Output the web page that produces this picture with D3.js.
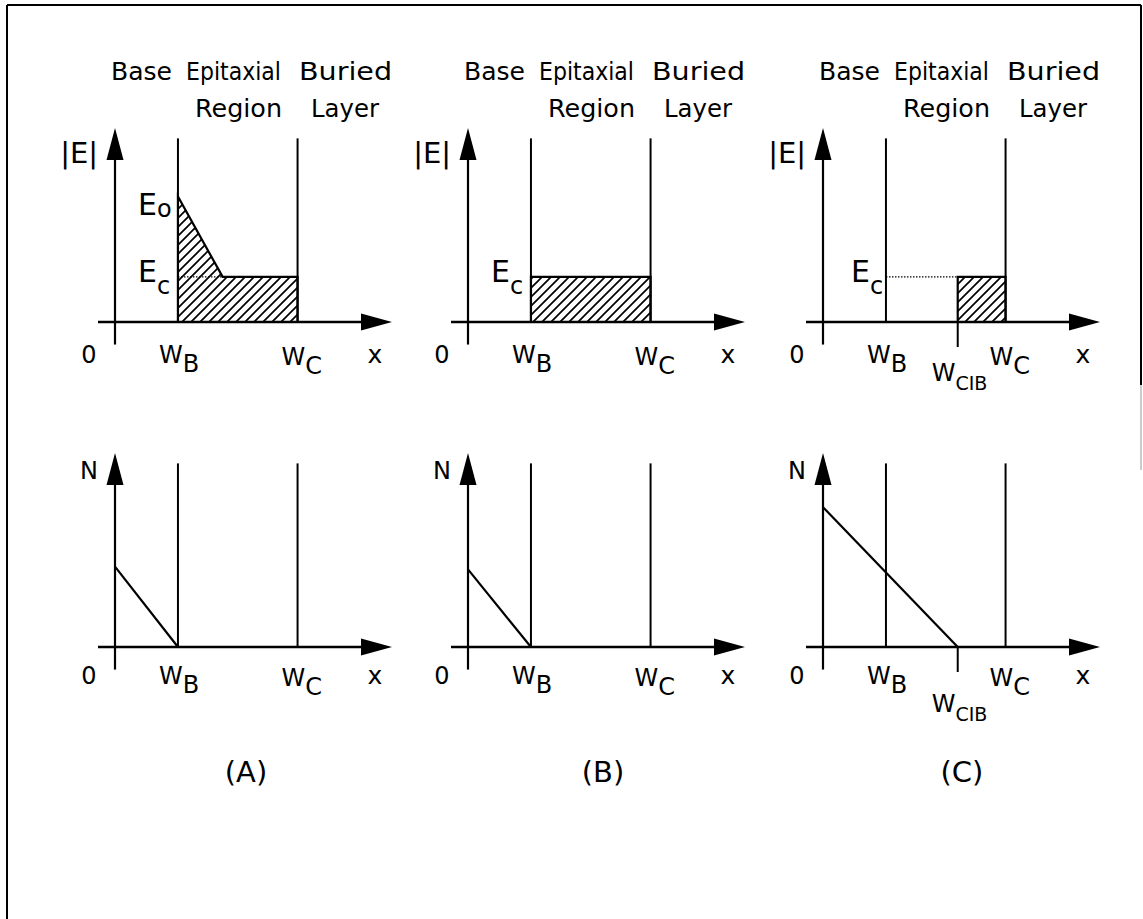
<!DOCTYPE html>
<html>
<head>
<meta charset="utf-8">
<script src="https://cdn.jsdelivr.net/npm/d3@7"></script>
<style>
  body { margin: 0; background: #fff; }
  text { font-family: "DejaVu Sans", "Liberation Sans", sans-serif; fill: #000; }
</style>
</head>
<body>
<svg></svg>
<script>
const width = 1143;
const height = 919;

// panel captions
const panelNames = ["(A)", "(B)", "(C)"];

// region names over each panel
const headerTop = ["Base", "Epitaxial", "Buried"];
const headerBottom = ["Region", "Layer"];

// boundary positions (x in units of W_B)
const wB = 1.0;
const wC = 2.9;
const wCIB = 2.14;

// field levels (y units)
const eC = 1.0;
const eO = 2.78;

// |E| profiles, [x, |E|]
const fieldA = [[1.0, 0], [1.0, 2.78], [1.71, 1.0], [2.9, 1.0], [2.9, 0]];
const fieldB = [[1.0, 0], [1.0, 1.0], [2.9, 1.0], [2.9, 0]];
const fieldC = [[2.14, 0], [2.14, 1.0], [2.9, 1.0], [2.9, 0]];

// doping profiles, [x, N]
const dopingA = [[0, 1.78], [1.0, 0]];
const dopingB = [[0, 1.72], [1.0, 0]];
const dopingC = [[0, 3.1], [2.14, 0]];

const fields = [fieldA, fieldB, fieldC];
const dopings = [dopingA, dopingB, dopingC];
// where the dotted E_c guide starts and ends
const ecGuides = [[1.0, 1.71], null, [1.0, 2.14]];

const originX = [115, 468, 823];

const svg = d3.select("svg")
    .attr("width", width)
    .attr("height", height);

// hatching
svg.append("defs").append("pattern")
    .attr("id", "hatch")
    .attr("patternUnits", "userSpaceOnUse")
    .attr("width", 9)
    .attr("height", 9)
    .append("path")
    .attr("d", "M-2,2 L2,-2 M0,9 L9,0 M7,11 L11,7")
    .attr("stroke", "#000")
    .attr("stroke-width", 1.7);

// frame round the figure
const frame = svg.append("g").attr("stroke", "#000").attr("stroke-width", 2);
frame.append("line").attr("x1", 7).attr("y1", 5).attr("x2", 1141).attr("y2", 5);
frame.append("line").attr("x1", 7).attr("y1", 5).attr("x2", 7).attr("y2", height);
frame.append("line").attr("x1", 1141).attr("y1", 5).attr("x2", 1141).attr("y2", 385);
frame.append("line").attr("x1", 1141).attr("y1", 385).attr("x2", 1141).attr("y2", 470)
    .attr("stroke", "#bbb").attr("stroke-width", 1.5);

function label(g, x, y, main, sub, opts = {}) {
    const t = g.append("text")
        .attr("x", x)
        .attr("y", y)
        .attr("font-size", opts.size || 24)
        .attr("text-anchor", opts.anchor || "start");
    t.append("tspan").text(main);
    if (sub) {
        t.append("tspan")
            .attr("dy", opts.subDy || 9)
            .attr("font-size", opts.subSize || 24)
            .text(sub);
    }
    return t;
}

function drawAxes(g, x, y, yLabel, yLabelSize) {
    const x0 = x(0), y0 = y(0);
    const xEnd = x(4.4), yEnd = y(4.3);
    g.append("line")
        .attr("x1", x(-0.27)).attr("y1", y0)
        .attr("x2", xEnd - 20).attr("y2", y0)
        .attr("stroke", "#000").attr("stroke-width", 2.5);
    g.append("line")
        .attr("x1", x0).attr("y1", y(-0.5))
        .attr("x2", x0).attr("y2", yEnd + 20)
        .attr("stroke", "#000").attr("stroke-width", 2.2);
    // arrow heads
    g.append("path")
        .attr("d", `M${xEnd},${y0} L${xEnd - 31},${y0 - 8.5} L${xEnd - 31},${y0 + 8.5} Z`);
    g.append("path")
        .attr("d", `M${x0},${yEnd} L${x0 - 8.5},${yEnd + 32} L${x0 + 8.5},${yEnd + 32} Z`);

    // region boundaries
    [wB, wC].forEach(v => {
        g.append("line")
            .attr("x1", x(v)).attr("y1", y(4.07))
            .attr("x2", x(v)).attr("y2", y0)
            .attr("stroke", "#000").attr("stroke-width", 2);
    });

    label(g, x0 - 17, yEnd + (yLabelSize > 24 ? 35 : 26), yLabel, null,
        { anchor: "end", size: yLabelSize });
}

function drawTicks(g, x, y, base, cibDrop) {
    const y0 = y(0);
    label(g, x(0) - 26, y0 + base, "0", null, { anchor: "middle" });
    label(g, x(wB) - 19, y0 + base, "W", "B");
    label(g, x(wC) - 16, y0 + base + 2, "W", "C");
    label(g, x(4.4) - 17, y0 + base, "x", null, { anchor: "middle", size: 25 });
    if (cibDrop) {
        g.append("line")
            .attr("x1", x(wCIB)).attr("y1", y0)
            .attr("x2", x(wCIB)).attr("y2", y0 + 25)
            .attr("stroke", "#000").attr("stroke-width", 2);
        label(g, x(wCIB) - 26, y0 + base + cibDrop, "W", "CIB", { subSize: 19 });
    }
}

const line = d3.line();

panelNames.forEach((name, i) => {
    const ox = originX[i];
    const x = d3.scaleLinear().domain([0, 4.4]).range([ox, ox + 277]);
    const yTop = d3.scaleLinear().domain([0, 4.3]).range([322, 128]);
    const yBot = d3.scaleLinear().domain([0, 4.3]).range([647, 453]);

    const g = svg.append("g");

    // header
    const topPos = [[-4, 61], [71, 95], [184, 93]];
    headerTop.forEach((w, k) => {
        g.append("text")
            .attr("x", ox + topPos[k][0]).attr("y", 80)
            .attr("font-size", 24)
            .attr("textLength", topPos[k][1])
            .attr("lengthAdjust", "spacingAndGlyphs")
            .text(w);
    });
    const botPos = [[80, 87], [196, 68]];
    headerBottom.forEach((w, k) => {
        g.append("text")
            .attr("x", ox + botPos[k][0]).attr("y", 117)
            .attr("font-size", 24)
            .attr("textLength", botPos[k][1])
            .attr("lengthAdjust", "spacingAndGlyphs")
            .text(w);
    });

    // top: electric field
    const top = g.append("g");
    top.append("path")
        .attr("d", line(fields[i].map(d => [x(d[0]), yTop(d[1])])) + "Z")
        .attr("fill", "url(#hatch)")
        .attr("stroke", "#000")
        .attr("stroke-width", 2.2);
    if (ecGuides[i]) {
        top.append("line")
            .attr("x1", x(ecGuides[i][0])).attr("y1", yTop(eC))
            .attr("x2", x(ecGuides[i][1])).attr("y2", yTop(eC))
            .attr("stroke", "#000").attr("stroke-width", 1.2)
            .attr("stroke-dasharray", "1.5,1.5");
    }
    drawAxes(top, x, yTop, "|E|", 29);
    drawTicks(top, x, yTop, 41, i === 2 ? 18 : 0);
    if (i === 0) {
        label(top, x(wB) - 40, yTop(eO) + 18, "E", "o", { size: 30, subDy: 2, subSize: 24 });
    }
    const ecX = i === 2 ? x(wB) - 35 : x(wB) - 40;
    label(top, ecX, yTop(eC) + 5, "E", "c", { size: 30, subDy: 12, subSize: 24 });

    // bottom: doping
    const bot = g.append("g");
    bot.append("path")
        .attr("d", line(dopings[i].map(d => [x(d[0]), yBot(d[1])])))
        .attr("fill", "none")
        .attr("stroke", "#000")
        .attr("stroke-width", 2.2);
    drawAxes(bot, x, yBot, "N", 24);
    drawTicks(bot, x, yBot, 37, i === 2 ? 28 : 0);

    label(g, ox + 131 + i * 4, 782, name, null, { anchor: "middle", size: 29 });
});
</script>
</body>
</html>
